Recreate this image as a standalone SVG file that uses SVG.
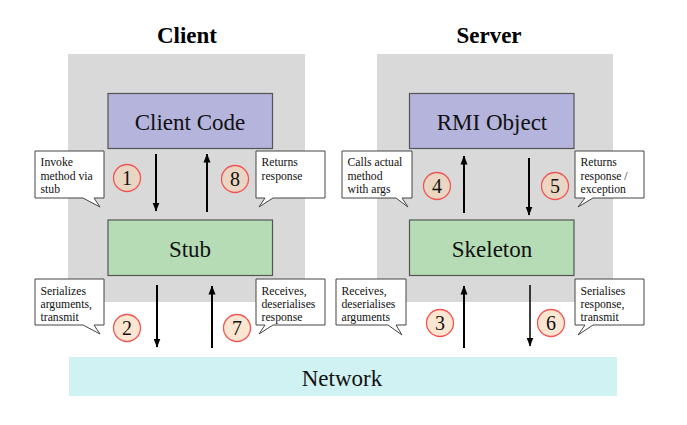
<svg xmlns="http://www.w3.org/2000/svg" width="687" height="425" viewBox="0 0 687 425">
<defs>
<marker id="ah" markerUnits="userSpaceOnUse" markerWidth="9" markerHeight="8" viewBox="0 0 9 8" refX="8.5" refY="4" orient="auto">
<path d="M0,0.5 L9,4 L0,7.5 Z" fill="#000"/>
</marker>
</defs>
<style>
text{font-family:'Liberation Serif','Times New Roman',serif}
.panel{fill:#d9d9d9}
.title{font-weight:bold;font-size:23px;text-anchor:middle;fill:#000}
.purple{fill:#b4b4dc;stroke:#555;stroke-width:1.2}
.green{fill:#b5dcb5;stroke:#555;stroke-width:1.2}
.lbl{font-size:23px;text-anchor:middle;fill:#111}
.call{fill:#fff;stroke:#444;stroke-width:1}
.ct{font-size:11.7px;fill:#111}
.num{font-size:20px;text-anchor:middle;fill:#111}
.cg{fill:#ead6c2;stroke:#f05555;stroke-width:1.3}
.cw{fill:#fde6d1;stroke:#f05555;stroke-width:1.3}
.ar{stroke:#000;stroke-width:2;fill:none;marker-end:url(#ah)}
</style>
<rect width="687" height="425" fill="#fff"/>
<text class="title" x="187" y="43">Client</text>
<text class="title" x="489" y="43">Server</text>
<rect class="panel" x="68" y="54" width="237" height="248"/>
<rect class="panel" x="377" y="54" width="236" height="248"/>
<g id="network"><rect x="69" y="357" width="548" height="39" fill="#d0f2f2"/><text class="lbl" x="342" y="386">Network</text></g>
<g id="client-code"><rect class="purple" x="108" y="93.5" width="164.5" height="55"/><text class="lbl" x="190" y="130">Client Code</text></g>
<g id="stub"><rect class="green" x="108" y="220" width="164.5" height="55.5"/><text class="lbl" x="190" y="257">Stub</text></g>
<g id="rmi-object"><rect class="purple" x="409.5" y="93.5" width="164.5" height="55"/><text class="lbl" x="492" y="130">RMI Object</text></g>
<g id="skeleton"><rect class="green" x="409.5" y="220" width="164.5" height="55.5"/><text class="lbl" x="492" y="257">Skeleton</text></g>
<g id="connectors">
<line class="ar" x1="156" y1="154" x2="156" y2="211"/>
<line class="ar" x1="207" y1="212" x2="207" y2="154"/>
<line class="ar" x1="157" y1="285" x2="157" y2="347"/>
<line class="ar" x1="212" y1="348" x2="212" y2="286"/>
<line class="ar" x1="464" y1="213" x2="464" y2="156"/>
<line class="ar" x1="529" y1="158" x2="529" y2="215"/>
<line class="ar" x1="464" y1="348" x2="464" y2="286"/>
<line class="ar" x1="530" y1="285" x2="530" y2="346" style="stroke-width:1.5"/>
</g>
<g id="step1"><circle class="cg" cx="127" cy="178" r="13.5"/><text class="num" x="127" y="185">1</text></g>
<g id="step8"><circle class="cg" cx="235" cy="179" r="13.5"/><text class="num" x="235" y="186">8</text></g>
<g id="step2"><circle class="cw" cx="127" cy="328" r="13.5"/><text class="num" x="127" y="335">2</text></g>
<g id="step7"><circle class="cw" cx="237" cy="328" r="13.5"/><text class="num" x="237" y="335">7</text></g>
<g id="step4"><circle class="cg" cx="437" cy="186" r="13.5"/><text class="num" x="437" y="193">4</text></g>
<g id="step5"><circle class="cg" cx="555" cy="186" r="13.5"/><text class="num" x="555" y="193">5</text></g>
<g id="step3"><circle class="cw" cx="440" cy="323" r="13.5"/><text class="num" x="440" y="330">3</text></g>
<g id="step6"><circle class="cw" cx="551" cy="323" r="13.5"/><text class="num" x="551" y="330">6</text></g>
<g id="note1"><path class="call" d="M35,151 H104 V198 H94 L100,207 L83,198 H35 Z"/><text class="ct"><tspan x="40.5" y="166">Invoke</tspan><tspan x="40.5" y="179.5">method via</tspan><tspan x="40.5" y="193">stub</tspan></text></g>
<g id="note8"><path class="call" d="M256,151 H325 V198 H273 L259,207 L265,198 H256 Z"/><text class="ct"><tspan x="261.5" y="166">Returns</tspan><tspan x="261.5" y="179.5">response</tspan></text></g>
<g id="note2"><path class="call" d="M35,279 H104 V325 H94 L100,334 L83,325 H35 Z"/><text class="ct"><tspan x="40.5" y="294.5">Serializes</tspan><tspan x="40.5" y="308">arguments,</tspan><tspan x="40.5" y="321">transmit</tspan></text></g>
<g id="note7"><path class="call" d="M256,279 H325 V325 H273 L259,334 L265,325 H256 Z"/><text class="ct"><tspan x="261.5" y="294.5">Receives,</tspan><tspan x="261.5" y="308">deserialises</tspan><tspan x="261.5" y="321">response</tspan></text></g>
<g id="note4"><path class="call" d="M342,151 H412 V198 H402 L408,207 L396,198 H342 Z"/><text class="ct"><tspan x="347.5" y="166">Calls actual</tspan><tspan x="347.5" y="179.5">method</tspan><tspan x="347.5" y="193">with args</tspan></text></g>
<g id="note5"><path class="call" d="M575,151 H644 V198 H593 L578,207 L585,198 H575 Z"/><text class="ct"><tspan x="580.5" y="166">Returns</tspan><tspan x="580.5" y="179.5">response /</tspan><tspan x="580.5" y="193">exception</tspan></text></g>
<g id="note3"><path class="call" d="M336,279 H406 V325 H396 L402,335 L388,325 H336 Z"/><text class="ct"><tspan x="341.5" y="294.5">Receives,</tspan><tspan x="341.5" y="308">deserialises</tspan><tspan x="341.5" y="321">arguments</tspan></text></g>
<g id="note6"><path class="call" d="M575,279 H644 V325 H593 L578,335 L585,325 H575 Z"/><text class="ct"><tspan x="580.5" y="294.5">Serialises</tspan><tspan x="580.5" y="308">response,</tspan><tspan x="580.5" y="321">transmit</tspan></text></g>
</svg>
